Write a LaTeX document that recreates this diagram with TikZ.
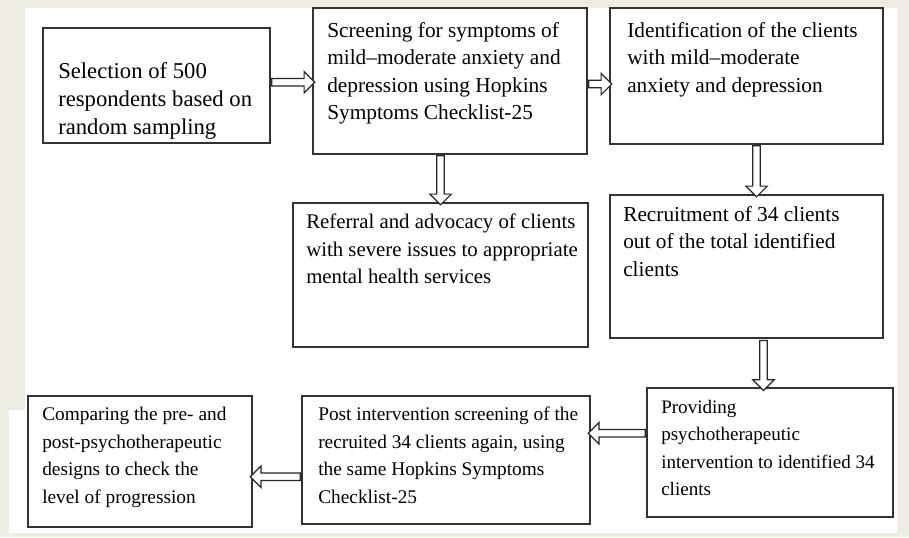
\documentclass[tikz,border=0pt]{standalone}
\usepackage{fontspec}
\setmainfont{Liberation Serif}
\usetikzlibrary{shapes,arrows.meta,calc,fit,positioning}
\definecolor{pagebg}{HTML}{EFECE6}
\tikzset{
    x=0.75pt,y=-0.75pt,
    box/.style={rectangle, draw=black!80, line width=1.1pt, inner sep=0pt},
    txt/.style={anchor=north west, align=left, inner sep=0pt, font=\fontsize{#1}{20.6}\selectfont},
    txt/.default=16,
    arr/.style={single arrow, draw=black!85, fill=white, line width=0.9pt,
        inner xsep=0pt, inner ysep=2.3pt, single arrow head extend=5.3pt,
        single arrow head indent=0pt}
}
\begin{document}
\begin{tikzpicture}
	\useasboundingbox (0,0) rectangle (909,537);
	\fill[pagebg] (0,0) rectangle (909,537);
	\fill[white] (25,8) -- (897,8) -- (897,533) -- (9,533) -- (9,410) -- (25,410) -- cycle;

	% boxes
	\node[box, fit={(43,28) (270,143)}] (1) {};
	\node[box, fit={(313,8) (587,154)}] (2) {};
	\node[box, fit={(610,8) (883,144)}] (3) {};
	\node[box, fit={(293,203) (588,347)}] (4) {};
	\node[box, fit={(610,195) (883,338)}] (5) {};
	\node[box, fit={(647,388) (893,517)}] (6) {};
	\node[box, fit={(302,396) (590,524)}] (7) {};
	\node[box, fit={(28,396) (252,527)}] (8) {};

	% texts
	\node[txt=17, font=\fontsize{17}{21}\selectfont] (t1) at (58,62) {Selection of 500\\respondents based on\\random sampling};
	\node[txt] (t2) at (327,22) {Screening for symptoms of\\mild--moderate anxiety and\\depression using Hopkins\\Symptoms Checklist-25};
	\node[txt] (t3) at (627,22) {Identification of the clients\\with mild--moderate\\anxiety and depression};
	\node[txt=15.6] (t4) at (306,214) {Referral and advocacy of clients\\with severe issues to appropriate\\mental health services};
	\node[txt] (t5) at (623,206) {Recruitment of 34 clients\\out of the total identified\\clients};
	\node[txt=14.3] (t6) at (661,400) {Providing\\psychotherapeutic\\intervention to identified 34\\clients};
	\node[txt=14.5] (t7) at (318,407) {Post intervention screening of the\\recruited 34 clients again, using\\the same Hopkins Symptoms\\Checklist-25};
	\node[txt=14.5] (t8) at (42,407) {Comparing the pre- and\\post-psychotherapeutic\\designs to check the\\level of progression};

	% arrows
	\path ($(1.east)+(0,-3)$) -- node[arr, minimum height=32.25pt] {} ($(2.west)+(0,1)$);
	\path ($(2.east)+(0,3)$) -- node[arr, minimum height=17.25pt] {} ($(3.west)+(0,8)$);
	\path (4.north |- 2.south) -- node[arr, rotate=-90, minimum height=36.75pt] {} (4.north);
	\path ($(3.south)+(10,0)$) -- node[arr, rotate=-90, minimum height=38.25pt] {} ($(5.north)+(10,0)$);
	\path ($(5.south)+(17,0)$) -- node[arr, rotate=-90, minimum height=37.5pt] {} ($(5.south)+(17,50)$);
	\path ($(6.west)+(0,-19)$) -- node[arr, rotate=180, minimum height=42.75pt] {} ($(7.east)+(0,-27)$);
	\path ($(7.west)+(0,17)$) -- node[arr, rotate=180, minimum height=37.5pt] {} ($(8.east)+(0,15)$);
\end{tikzpicture}
\end{document}
